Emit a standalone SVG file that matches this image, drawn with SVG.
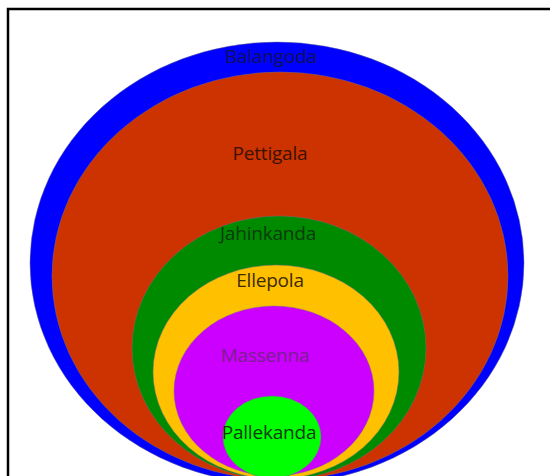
<svg xmlns="http://www.w3.org/2000/svg" width="550" height="476" viewBox="0 0 550 476">
<style>
.ring{stroke:#6e6e8a;stroke-opacity:0.45;stroke-width:1}
.lbl{font-family:"Open Sans","Noto Sans",sans-serif;font-size:19px;text-anchor:middle;letter-spacing:-0.2px}
</style>
<rect x="0" y="0" width="550" height="476" fill="#ffffff"/>
<rect x="8" y="9" width="560" height="500" fill="#ffffff" stroke="#000000" stroke-width="2.5"/>
<g id="balangoda">
<ellipse class="ring" cx="277" cy="263" rx="247" ry="221" fill="#0000ff"/>
<text class="lbl" x="271" y="63" fill="#10105a">Balangoda</text>
</g>
<g id="pettigala">
<ellipse class="ring" cx="280" cy="276" rx="228" ry="204" fill="#cc3300"/>
<text class="lbl" x="270" y="160" fill="#3b1200">Pettigala</text>
</g>
<g id="jahinkanda">
<ellipse class="ring" cx="279" cy="348" rx="147" ry="132" fill="#008a00"/>
<text class="lbl" x="268" y="240" fill="#0a3a0a">Jahinkanda</text>
</g>
<g id="ellepola">
<ellipse class="ring" cx="276" cy="372" rx="123" ry="107" fill="#ffc000"/>
<text class="lbl" x="270" y="287" fill="#3d2a00">Ellepola</text>
</g>
<g id="massenna">
<ellipse class="ring" cx="274" cy="391" rx="100" ry="85" fill="#cc00ff"/>
<text class="lbl" x="265" y="362" fill="#7a1f8f">Massenna</text>
</g>
<g id="pallekanda">
<ellipse class="ring" cx="272" cy="437" rx="49" ry="41" fill="#00ff00"/>
<text class="lbl" x="269" y="439" fill="#0f3a0f">Pallekanda</text>
</g>
<g id="connectors"/>
</svg>
